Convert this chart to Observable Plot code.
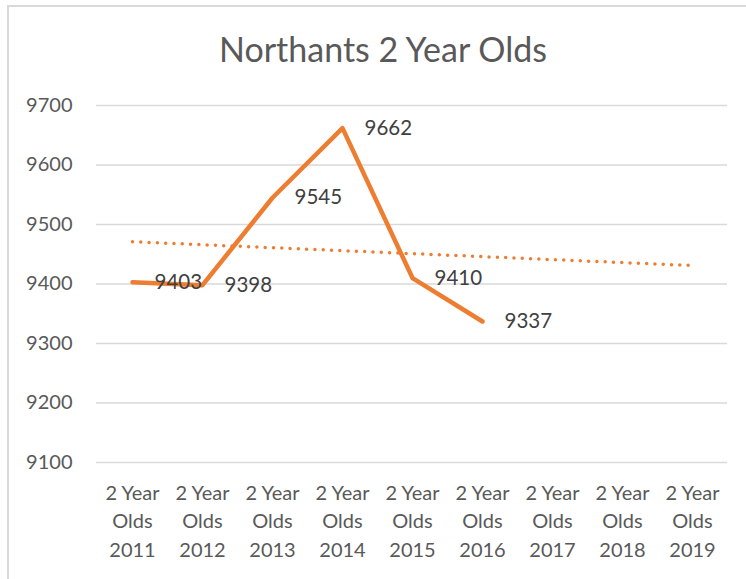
<!DOCTYPE html>
<html>
<head>
<meta charset="utf-8">
<script src="https://cdn.jsdelivr.net/npm/d3@7"></script>
<script src="https://cdn.jsdelivr.net/npm/@observablehq/plot@0.6"></script>
<style>
  html, body { margin: 0; padding: 0; background: #fff; }
  body { width: 746px; height: 579px; overflow: hidden; position: relative; font-family: Lato, "Open Sans", sans-serif; }
  #frame { position: absolute; left: 7px; top: 5px; width: 760px; height: 600px; border-left: 2px solid #D9D9D9; border-top: 2px solid #D9D9D9; box-sizing: border-box; }
  #title { position: absolute; left: 0; top: 0; width: 766px; height: 85px; text-align: center; line-height: 98px; font-size: 34px; color: #595959; }
  #chart { position: absolute; left: 0; top: 85px; }
</style>
</head>
<body>
<div id="frame"></div>
<div id="title">Northants 2 Year Olds</div>
<div id="chart"></div>
<script>
const categories = ["2 Year Olds 2011","2 Year Olds 2012","2 Year Olds 2013","2 Year Olds 2014","2 Year Olds 2015","2 Year Olds 2016","2 Year Olds 2017","2 Year Olds 2018","2 Year Olds 2019"];
const values = [9403, 9398, 9545, 9662, 9410, 9337];
const trendCategories = ["2 Year Olds 2011", "2 Year Olds 2019"];
const trendValues = [9471, 9431];
const yTicks = [9100, 9200, 9300, 9400, 9500, 9600, 9700];

const series = values.map((v, i) => ({cat: categories[i], value: v}));
const trend = trendValues.map((v, i) => ({cat: trendCategories[i], value: v}));

const orange = "#ED7D31";
const chart = Plot.plot({
  width: 746,
  height: 494,
  marginLeft: 96,
  marginRight: 19,
  marginTop: 20,
  marginBottom: 117,
  style: {fontFamily: "Lato, 'Open Sans', sans-serif", background: "transparent"},
  x: {type: "point", domain: categories, padding: 0.5},
  y: {domain: [9100, 9700]},
  marks: [
    Plot.gridY(yTicks, {stroke: "#D9D9D9", strokeOpacity: 1, strokeWidth: 1.5}),
    Plot.axisY(yTicks, {tickSize: 0, tickPadding: 24, fontSize: 20, fill: "#595959", label: null, tickFormat: d => String(d)}),
    Plot.axisX(categories, {tickSize: 0, tickPadding: 17, fontSize: 20, lineHeight: 1.43, fill: "#595959", label: null,
      tickFormat: d => { const p = d.split(" "); return p[0] + " " + p[1] + "\n" + p[2] + "\n" + p[3]; }}),
    Plot.line(trend, {x: "cat", y: "value", stroke: orange, strokeWidth: 3.5, strokeDasharray: "0 8.3", strokeLinecap: "round"}),
    Plot.line(series, {x: "cat", y: "value", stroke: orange, strokeWidth: 4.5, strokeLinejoin: "round", strokeLinecap: "round"}),
    Plot.text(series, {x: "cat", y: "value", text: d => String(d.value), dx: 22, textAnchor: "start", fontSize: 20.5, fill: "#404040"})
  ]
});
document.getElementById("chart").appendChild(chart);
</script>
</body>
</html>
